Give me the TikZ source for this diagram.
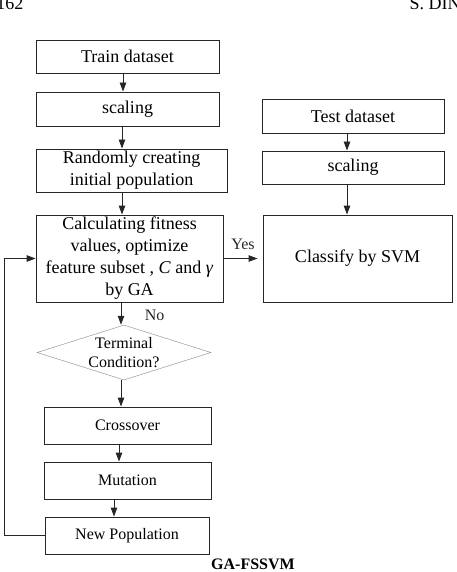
\documentclass[tikz,border=0pt]{standalone}
\usepackage{fontspec}
\setmainfont{Liberation Serif}
\usetikzlibrary{shapes.geometric,arrows.meta}
\begin{document}
\begin{tikzpicture}[x=1pt,y=-1pt,
  >={Triangle[length=9pt,width=6.5pt]},
  box/.style={draw=black!85,line width=0.9pt,inner sep=0pt,align=center,font=\fontsize{18}{22}\selectfont},
  sbox/.style={box,font=\fontsize{16}{19}\selectfont},
  flow/.style={->,line width=0.9pt,black!85}]
\useasboundingbox (0,0) rectangle (456,572);
% page header
\node[anchor=base east,font=\fontsize{18}{20}\selectfont] (pg) at (27,10) {162};
\node[anchor=base west,font=\fontsize{18}{20}\selectfont] (hd) at (406,10) {S. DIN};
% left column
\node[box,minimum width=183,minimum height=33] (train) at (127.5,56.5) {Train dataset};
\node[box,minimum width=183,minimum height=34] (scal) at (127.5,109) {scaling};
\node[box,minimum width=191,minimum height=43] (rand) at (131.5,170.5) {Randomly creating\\initial population};
\node[box,minimum width=187,minimum height=87] (calc) at (129.5,258.5) {Calculating fitness\\values, optimize\\feature subset , \textit{C} and \textit{γ}\\by GA};
\node[diamond,aspect=3.16,draw=black!40,line width=0.5pt,inner sep=0pt,minimum width=174,minimum height=55] (cond) at (124,352.5) {};
\node[align=center,inner sep=0pt,font=\fontsize{16}{19}\selectfont] (condtxt) at (cond.center) {Terminal\\Condition?};
\node[sbox,minimum width=167,minimum height=37] (cross) at (127.5,425.5) {Crossover};
\node[sbox,minimum width=167,minimum height=37] (mut) at (127.5,480.5) {Mutation};
\node[sbox,minimum width=164,minimum height=37] (newpop) at (127,535.5) {New Population};
% right column
\node[box,minimum width=182,minimum height=34] (test) at (353,116) {Test dataset};
\node[box,minimum width=182,minimum height=33] (tscal) at (353,167.5) {scaling};
\node[box,minimum width=189,minimum height=87] (svm) at (357.5,258.5) {Classify by SVM};
% arrows
\draw[flow] (train.south -| 123,0) -- (scal.north -| 123,0);
\draw[flow] (scal.south -| 122,0) -- (rand.north -| 122,0);
\draw[flow] (rand.south -| 122,0) -- (calc.north -| 122,0);
\draw[flow] (test.south -| 347,0) -- (tscal.north -| 347,0);
\draw[flow] (tscal.south -| 347,0) -- (svm.north -| 347,0);
\draw[flow,shorten >=5pt] (calc.east) -- node[above=5pt,font=\fontsize{16}{19}\selectfont] (yes) {Yes} (svm.west);
\draw[flow] (calc.south -| 121,0) -- node[right=20pt,yshift=-2pt,font=\fontsize{16}{19}\selectfont] (no) {No} (cond.north -| 121,0);
\draw[flow] (cond.south -| 121,0) -- (cross.north -| 121,0);
\draw[flow] (cross.south -| 119,0) -- (mut.north -| 119,0);
\draw[flow] (mut.south -| 114,0) -- (newpop.north -| 114,0);
\draw[flow] (newpop.west) -- ++(-40,0) |- (calc.west);
% caption
\node[font=\bfseries\fontsize{16}{19}\selectfont] (title) at (253,564) {GA-FSSVM};
\end{tikzpicture}
\end{document}
